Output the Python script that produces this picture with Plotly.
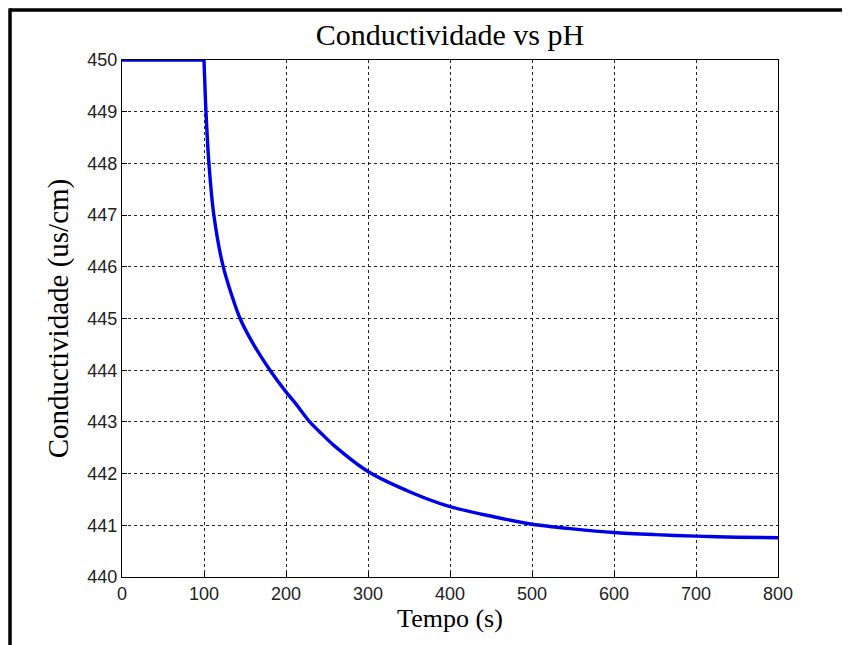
import plotly.graph_objects as go

# Data
tempo = [0, 100, 102.4, 106, 112, 123.5, 144, 160, 180.5, 200, 213, 229, 246, 258,
         300, 355, 400, 452, 500, 550, 600, 650, 700, 750, 800]
condutividade = [450, 450, 449, 448, 447, 446, 445, 444.51, 444, 443.58, 443.33, 443.0, 442.73, 442.55,
                 442.04, 441.62, 441.36, 441.17, 441.02, 440.93, 440.86, 440.82, 440.79, 440.77, 440.76]

x_ticks = [0, 100, 200, 300, 400, 500, 600, 700, 800]
y_ticks = [440, 441, 442, 443, 444, 445, 446, 447, 448, 449, 450]

# page body has an 8px margin; the figure is placed at (8, 8)
OFF = 8
W, H = 850, 645
PL, PT, PR, PB = 122, 60, 778, 577      # plot area in screen pixels
ML, MT = PL - OFF, PT - OFF
MR = W - (PR - OFF)
MB = H - (PB - OFF)
pw, ph = PR - PL, PB - PT

def px(x):  # screen x -> paper
    return (x - PL) / pw

def py(y):  # screen y -> paper
    return (PB - y) / ph

blue = dict(color="rgb(0,0,232)", width=3.4)
fig = go.Figure()
fig.add_trace(go.Scatter(x=tempo[:2], y=condutividade[:2], mode="lines", line=blue,
                         showlegend=False, hoverinfo="skip"))
fig.add_trace(go.Scatter(x=tempo[1:], y=condutividade[1:], mode="lines",
                         line=dict(shape="spline", smoothing=0.8, **blue),
                         showlegend=False, hoverinfo="skip"))

axis_common = dict(
    showline=True, linecolor="black", linewidth=1.2, mirror=True,
    ticks="inside", ticklen=5, tickcolor="black",
    showgrid=True, gridcolor="rgba(0,0,0,0.85)", gridwidth=1, griddash="3px,3px",
    zeroline=False,
    tickfont=dict(family="Liberation Sans, Arial", size=18, color="#222"),
)

serif = "Liberation Serif, Times New Roman"
fig.update_xaxes(range=[0, 800], tickvals=x_ticks, ticktext=[str(v) for v in x_ticks],
                 title=dict(text="Tempo (s)", font=dict(family=serif, size=26, color="black"), standoff=6),
                 **axis_common)
fig.update_yaxes(range=[440, 450], tickvals=y_ticks, ticktext=[str(v) for v in y_ticks],
                 title=dict(text="Conductividade (us/cm)", font=dict(family=serif, size=29, color="black"), standoff=10),
                 **axis_common)

fig.update_layout(
    width=W, height=H,
    margin=dict(l=ML, r=MR, t=MT, b=MB),
    paper_bgcolor="white", plot_bgcolor="white",
    title=dict(text="Conductividade vs pH", x=0.5, xanchor="center", xref="paper",
               y=1 - (34 - OFF) / H, yanchor="middle",
               font=dict(family=serif, size=30, color="black")),
    shapes=[
        dict(type="line", xref="paper", yref="paper", x0=px(9), x1=px(860), y0=py(10), y1=py(10),
             line=dict(color="black", width=3.5)),
        dict(type="line", xref="paper", yref="paper", x0=px(10), x1=px(10), y0=py(8.5), y1=py(660),
             line=dict(color="black", width=3.5)),
    ],
)

fig.write_html("out.html")
